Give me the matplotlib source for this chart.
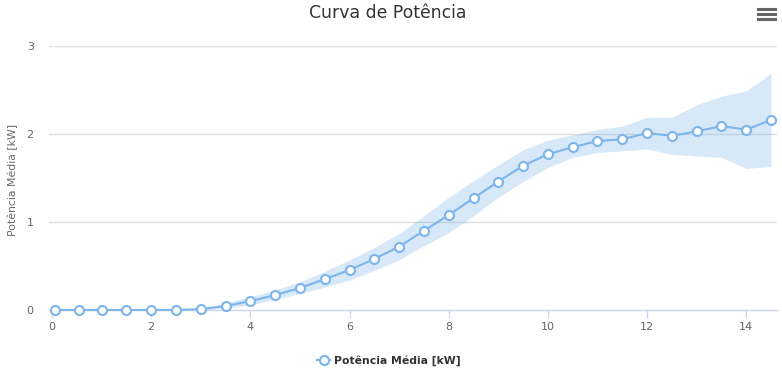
import matplotlib
matplotlib.use("Agg")
import matplotlib.pyplot as plt
from matplotlib.lines import Line2D

wind = [0.07, 0.55, 1.0, 1.5, 2.0, 2.5, 3.0, 3.5, 4.0, 4.5, 5.0, 5.5, 6.0, 6.5, 7.0,
        7.5, 8.0, 8.5, 9.0, 9.5, 10.0, 10.5, 11.0, 11.5, 12.0, 12.5, 13.0, 13.5, 14.0, 14.5]
power_mean = [0, 0, 0, 0, 0, 0, 0.01, 0.045, 0.10, 0.17, 0.25, 0.35, 0.455, 0.58, 0.72,
              0.90, 1.08, 1.27, 1.46, 1.64, 1.77, 1.85, 1.92, 1.94, 2.01, 1.98, 2.03, 2.09, 2.05, 2.16]
power_upper = [0, 0, 0, 0, 0, 0, 0.02, 0.08, 0.15, 0.23, 0.32, 0.44, 0.57, 0.71, 0.87,
               1.07, 1.28, 1.47, 1.65, 1.82, 1.93, 1.99, 2.05, 2.09, 2.19, 2.19, 2.33, 2.43, 2.49, 2.69]
power_lower = [0, 0, 0, 0, 0, 0, 0, 0.02, 0.057, 0.12, 0.19, 0.26, 0.34, 0.45, 0.57,
               0.73, 0.88, 1.07, 1.28, 1.46, 1.62, 1.735, 1.79, 1.81, 1.83, 1.77, 1.75, 1.735, 1.61, 1.63]
x_ticks = [0, 2, 4, 6, 8, 10, 12, 14]
y_ticks = [0, 1, 2, 3]

title = "Curva de Potência"
y_label = "Potência Média [kW]"
series_name = "Potência Média [kW]"

plt.rcParams['font.family'] = ['DejaVu Sans']
W, H = 782, 373
fig = plt.figure(figsize=(W / 100, H / 100), dpi=100)
ax = fig.add_axes([49 / W, (H - 310) / H, (777 - 49) / W, (310 - 46) / H])

color = '#7cb5ec'
ax.fill_between(wind, power_lower, power_upper, color=color, alpha=0.3, linewidth=0, zorder=1)
ax.plot(wind, power_mean, color=color, linewidth=1.5, marker='o', markersize=6.5,
        markerfacecolor='white', markeredgecolor=color, markeredgewidth=1.5, zorder=3,
        clip_on=False)

ax.set_xlim(-0.06, 14.62)
ax.set_ylim(0, 3)
ax.set_xticks(x_ticks)
ax.set_yticks(y_ticks)
ax.set_yticklabels([str(v) for v in y_ticks])
for v in y_ticks[1:]:
    ax.axhline(v, color='#dcdcdc', linewidth=1, zorder=0)

for s in ['top', 'right', 'left']:
    ax.spines[s].set_visible(False)
ax.spines['bottom'].set_color('#ccd6eb')
ax.spines['bottom'].set_linewidth(1)
ax.tick_params(axis='x', colors='#ccd6eb', length=6, width=1, labelcolor='#666666',
               labelsize=8, pad=3)
ax.tick_params(axis='y', length=0, labelcolor='#666666', labelsize=8, pad=11)

fig.text(13 / W, 1 - 180 / H, y_label, rotation=90, ha='center', va='center',
         color='#666666', fontsize=7.8)

fig.text(388 / W, 1 - 13 / H, title, ha='center', va='center', fontsize=12.4, color='#333333')

# legend
handle = Line2D([0], [0], color=color, linewidth=1.5, marker='o', markersize=6.5,
                markerfacecolor='white', markeredgecolor=color, markeredgewidth=1.5)
fig.legend([handle], [series_name], loc='center', bbox_to_anchor=(389 / W, 1 - 361 / H),
           frameon=False, handlelength=1.2, handletextpad=0.4,
           prop={'weight': 'bold', 'size': 7.8}, labelcolor='#333333')

# menu icon
for yy in [9, 14, 19]:
    fig.add_artist(Line2D([758 / W, 775 / W], [1 - yy / H, 1 - yy / H], color='#666666',
                          linewidth=2.2, transform=fig.transFigure))

fig.savefig('out.png', dpi=100)
